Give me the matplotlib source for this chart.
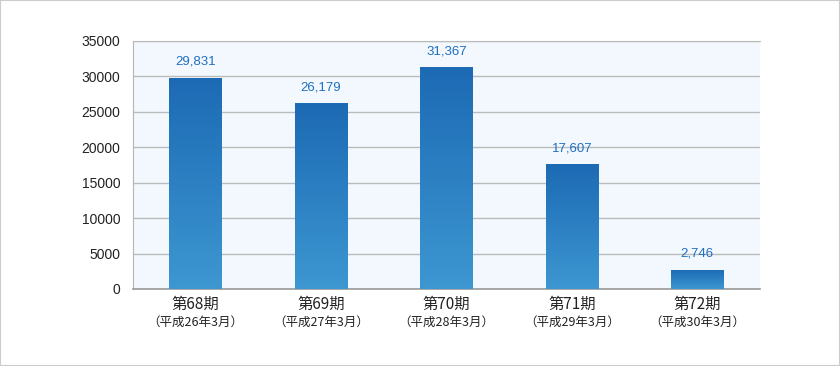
import numpy as np
import matplotlib.pyplot as plt
from matplotlib.colors import LinearSegmentedColormap
from matplotlib.patches import Rectangle

periods = ["第68期", "第69期", "第70期", "第71期", "第72期"]
sub_labels = ["（平成26年3月）", "（平成27年3月）", "（平成28年3月）", "（平成29年3月）", "（平成30年3月）"]
values = [29831, 26179, 31367, 17607, 2746]
y_ticks = [0, 5000, 10000, 15000, 20000, 25000, 30000, 35000]

plt.rcParams["font.family"] = ["Liberation Sans", "Noto Sans CJK JP", "DejaVu Sans"]
cjk = ["Noto Sans CJK JP", "DejaVu Sans"]

fig = plt.figure(figsize=(8.4, 3.66), dpi=100)
fig.patches.append(Rectangle((0, 0), 1, 1, transform=fig.transFigure,
                             fill=False, edgecolor="#cccccc", linewidth=1.5))
ax = fig.add_axes([0.1583, 0.2104, 0.7465, 0.6776])
ax.set_facecolor("#f2f8fe")

x = np.arange(len(values))
bars = ax.bar(x, values, width=0.42, color="#2b80c3", zorder=2)

# vertical gradient inside each bar
cmap = LinearSegmentedColormap.from_list("blu", ["#3d97d1", "#1c6ab4"])
grad = np.linspace(0, 1, 256).reshape(-1, 1)
for b in bars:
    x0, y0 = b.get_x(), b.get_y()
    im = ax.imshow(grad, cmap=cmap, aspect="auto", origin="lower",
                   extent=[x0, x0 + b.get_width(), y0, y0 + b.get_height()], zorder=3)
    im.set_clip_path(b)

for i, v in enumerate(values):
    ax.annotate(f"{v:,}", xy=(i, v), xytext=(0, 7), textcoords="offset points",
                ha="center", va="bottom", fontsize=9.5, color="#1f6fbf")
    ax.annotate(sub_labels[i], xy=(i, 0), xycoords="data", xytext=(0, -19),
                textcoords="offset points", ha="center", va="top", fontsize=9,
                color="#222222", family=cjk)

ax.set_xlim(-0.5, len(values) - 0.5)
ax.set_ylim(0, 35000)
ax.set_yticks(y_ticks)
ax.set_yticklabels([str(t) for t in y_ticks], fontsize=10, color="#222222")
ax.set_xticks(x)
ax.set_xticklabels(periods, fontsize=11, color="#222222", family=cjk)
ax.tick_params(axis="both", length=0)
ax.tick_params(axis="y", pad=9)
ax.tick_params(axis="x", pad=5)

ax.grid(axis="y", color="#bbbbbb", linewidth=1, zorder=1)
ax.set_axisbelow(True)
ax.spines["right"].set_visible(False)
ax.spines["top"].set_color("#bbbbbb")
ax.spines["left"].set_color("#b5b5b5")
ax.spines["bottom"].set_color("#999999")
ax.spines["bottom"].set_linewidth(1.2)

fig.savefig("out.png", dpi=100)
